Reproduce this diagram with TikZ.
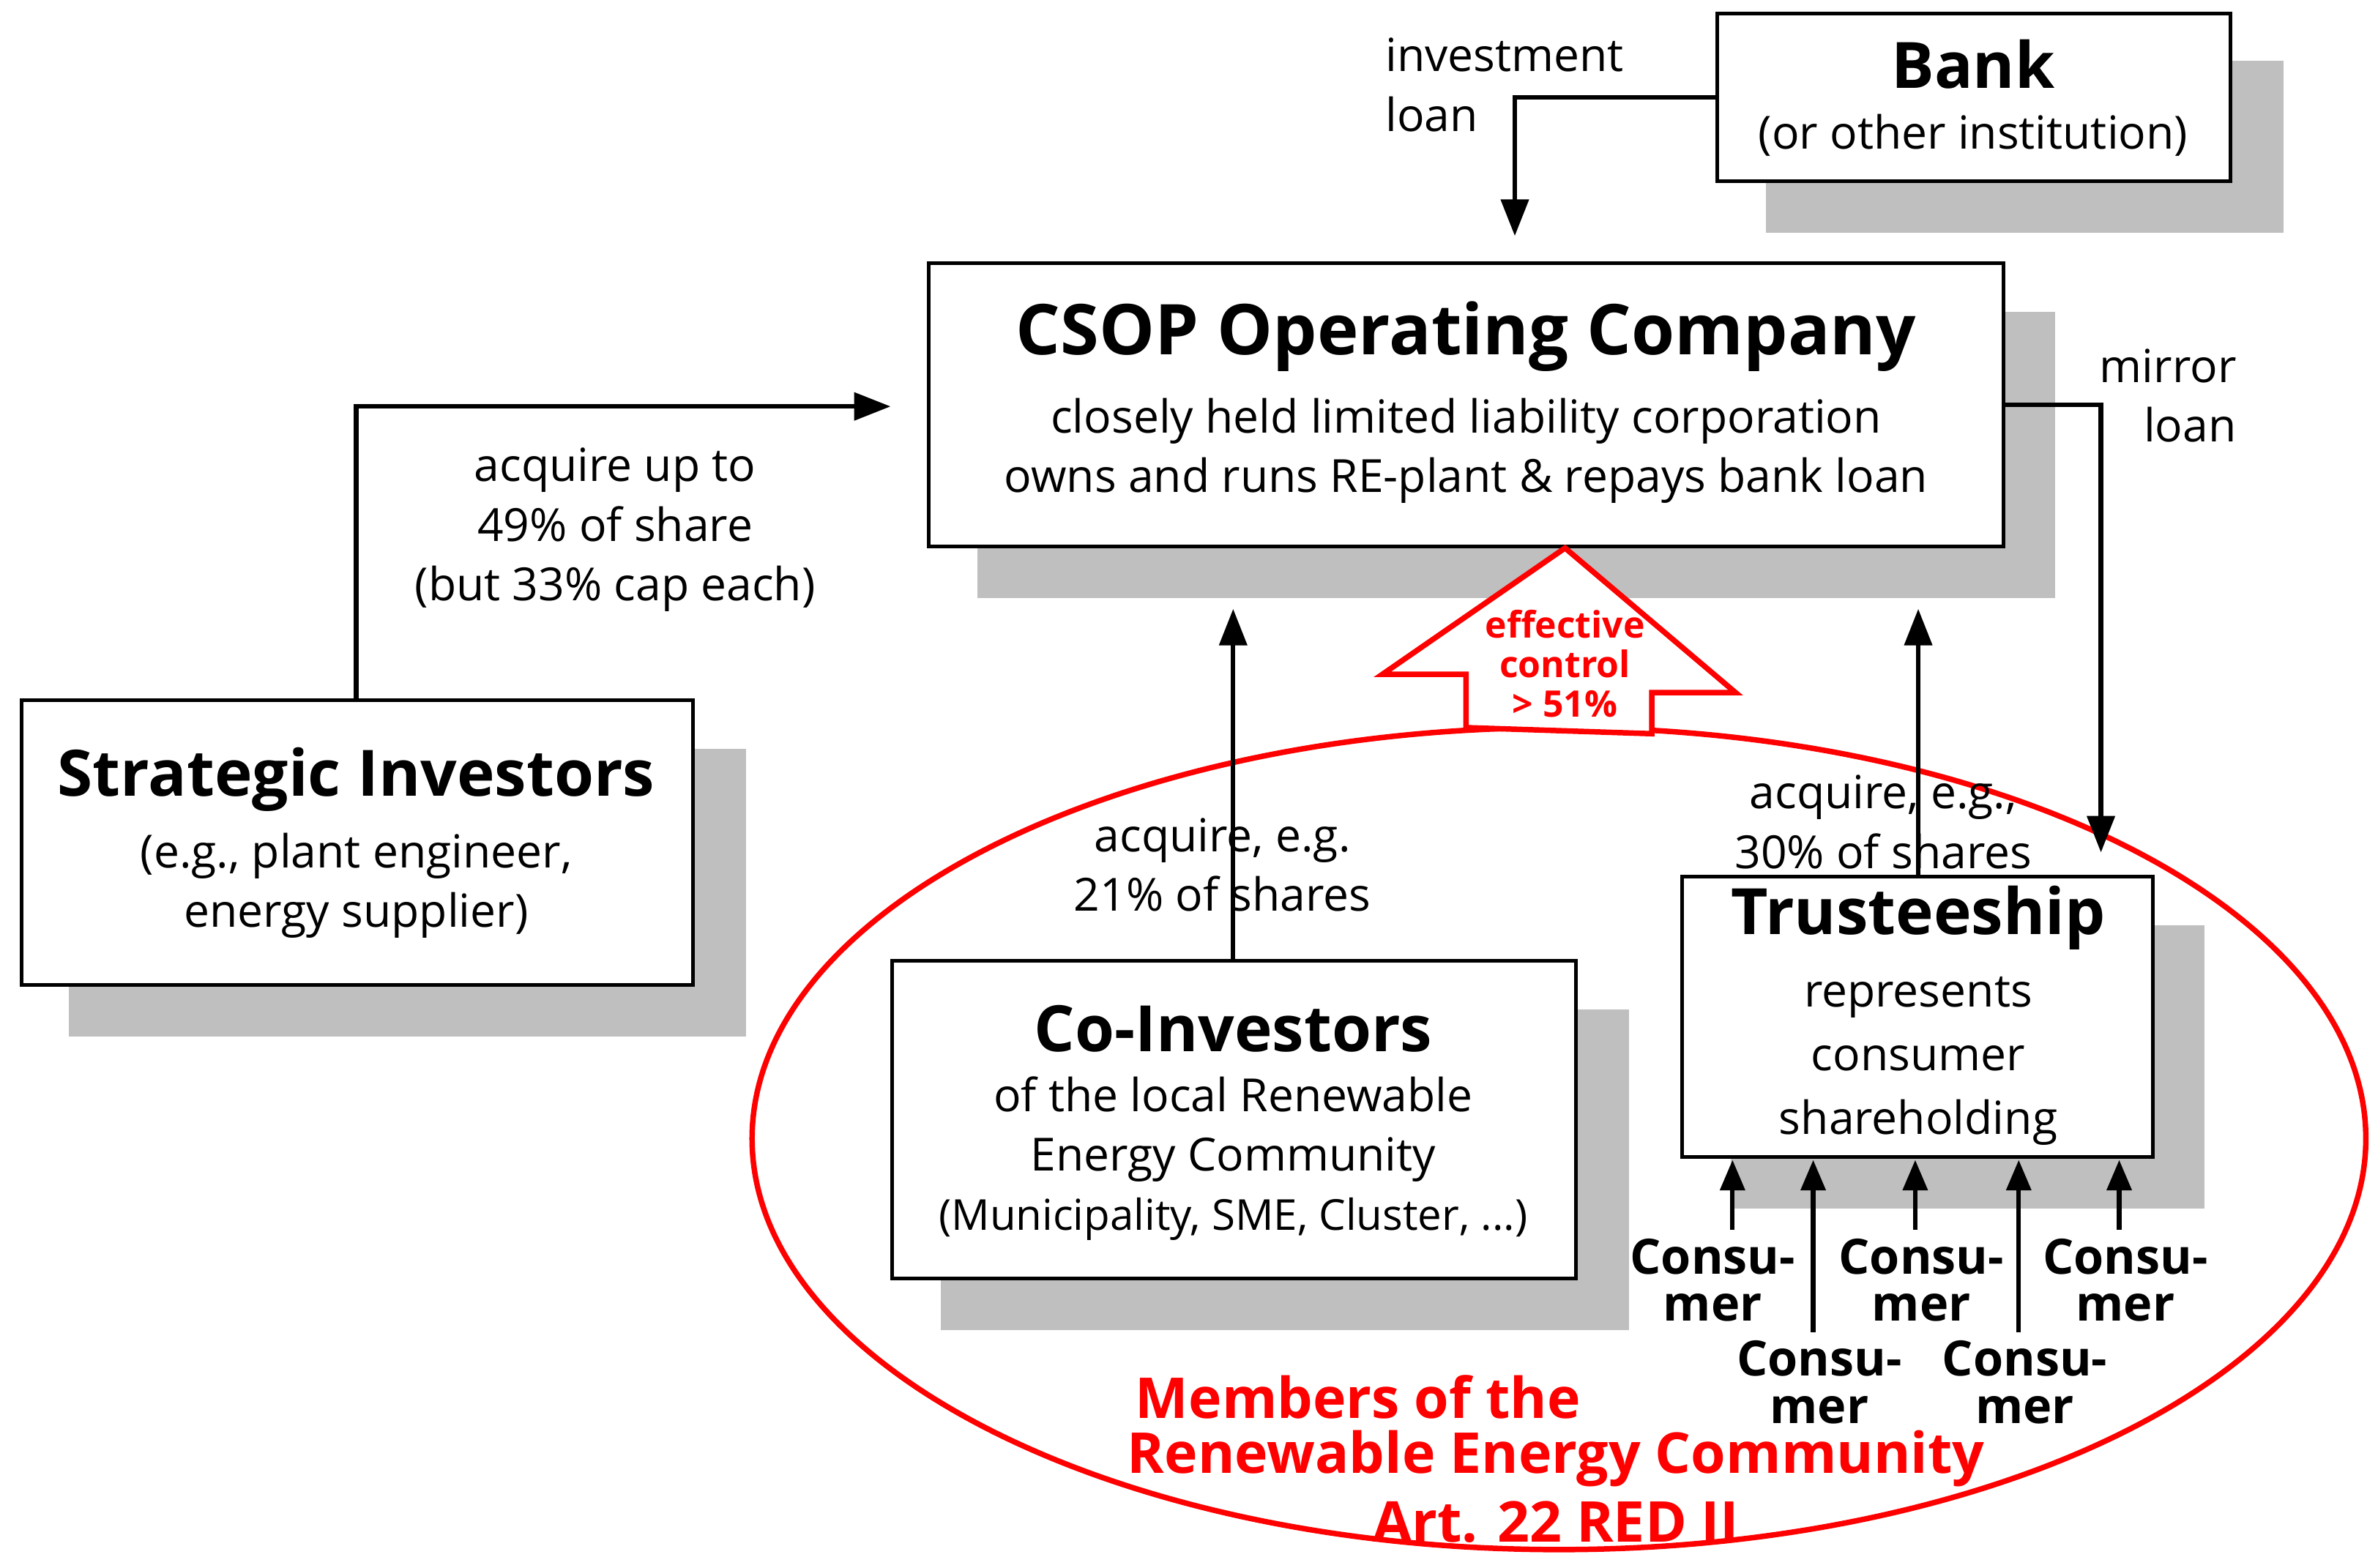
\documentclass[tikz,border=0pt]{standalone}
\usepackage{fontspec}
\setmainfont{Open Sans}
\usetikzlibrary{arrows.meta}
\begin{document}
\begin{tikzpicture}[x=0.5pt,y=-0.5pt,
 box/.style={draw,line width=1.2pt,fill=white},
 shadow/.style={fill=black!25},
 arr/.style={line width=1.5pt,-{Triangle[length=12pt,width=9pt]}},
 txt/.style={font=\fontsize{15}{19.5}\selectfont,align=center},
 ttl/.style={font=\fontsize{21}{26}\selectfont\bfseries},
 cons/.style={font=\fontsize{16}{15.5}\selectfont\bfseries,align=center},
 redt/.style={red,font=\fontsize{18.5}{21}\selectfont\bfseries}]
\useasboundingbox (0,0) rectangle (1562,1030);
% shadows
\fill[shadow] (1160,40) rectangle (1500,153);
\fill[shadow] (642,205) rectangle (1350,393);
\fill[shadow] (45,492) rectangle (490,681);
\fill[shadow] (618,663) rectangle (1070,874);
\fill[shadow] (1137,608) rectangle (1448,794);
% ellipse
\draw[red,line width=1.8pt] (1024,748) ellipse [x radius=530, y radius=270];
% boxes
\draw[box] (1128,9) rectangle (1465,119);
\node[ttl] (bank) at (1296,42) {Bank};
\node[txt] (banks) at (1296,89) {(or other institution)};
\draw[box] (610,173) rectangle (1316,359);
\node[ttl,font=\fontsize{23}{28}\selectfont\bfseries] (csopt) at (963,221) {CSOP Operating Company};
\node[txt] (csops) at (963,296) {closely held limited liability corporation\\owns and runs RE-plant \& repays bank loan};
\draw[box] (14,460) rectangle (455,647);
\node[ttl] (sit) at (234,512) {Strategic Investors};
\node[txt] (sis) at (234,582) {(e.g., plant engineer,\\energy supplier)};
\draw[box] (586,631) rectangle (1035,840);
\node[ttl] (cit) at (810,676) {Co-Investors};
\node[txt] (cis) at (810,761) {of the local Renewable\\Energy Community\\{\fontsize{14}{19}\selectfont(Municipality, SME, Cluster, ...)}};
\draw[box] (1105,576) rectangle (1414,760);
\node[ttl] (trt) at (1260,603) {Trusteeship};
\node[txt,font=\fontsize{15}{21}\selectfont] (trs) at (1260,697) {represents\\consumer\\shareholding};
% effective control arrow
\draw[red,line width=1.8pt,fill=white] (1028,360) -- (1140,455) -- (1085,455) -- (1085,482) -- (963,478) -- (963,443) -- (908,443) -- cycle;
\node[red,font=\fontsize{12}{13}\selectfont\bfseries,align=center] (ec) at (1028,436) {effective\\control\\> 51\%};
% connectors
\coordinate (b1) at (1128,64); \coordinate (b2) at (995,64); \coordinate (b3) at (995,155);
\draw[arr] (b1) -- (b2) -- (b3);
\node[txt,align=left,anchor=north west] (il) at (903,18) {investment\\loan};
\coordinate (s1) at (234,460); \coordinate (s2) at (234,267); \coordinate (s3) at (585,267);
\draw[arr] (s1) -- (s2) -- (s3);
\node[txt] (al) at (404,348) {acquire up to\\49\% of share\\(but 33\% cap each)};
\coordinate (c1) at (810,631); \coordinate (c2) at (810,400);
\draw[arr] (c1) -- (c2);
\node[txt] (cl) at (803,568) {acquire, e.g.\\21\% of shares};
\coordinate (t1) at (1260,576); \coordinate (t2) at (1260,400);
\draw[arr] (t1) -- (t2);
\node[txt] (tl) at (1237,540) {acquire, e.g.,\\30\% of shares};
\coordinate (m1) at (1316,266); \coordinate (m2) at (1380,266); \coordinate (m3) at (1380,560);
\draw[arr] (m1) -- (m2) -- (m3);
\node[txt,align=right,anchor=north east] (ml) at (1476,222) {mirror\\loan};
% consumers
\foreach \n/\x/\y/\d in {a/1138/808/-13,b/1191/875/4,c/1258/808/4,d/1326/875/4,e/1392/808/4}{
  \node[cons] (con\n) at (\x+\d,\y+33) {Consu-\\mer};
  \coordinate (ct\n) at (\x,762);
  \draw[line width=1.5pt,-{Triangle[length=10pt,width=8pt]}] (\x,\y) -- (ct\n);
}
\node[redt] (mem1) at (892,918) {Members of the};
\node[redt] (mem2) at (1022,958) {Renewable Energy Community};
\node[redt] (mem3) at (1022,1000) {Art. 22 RED II};
\end{tikzpicture}
\end{document}
